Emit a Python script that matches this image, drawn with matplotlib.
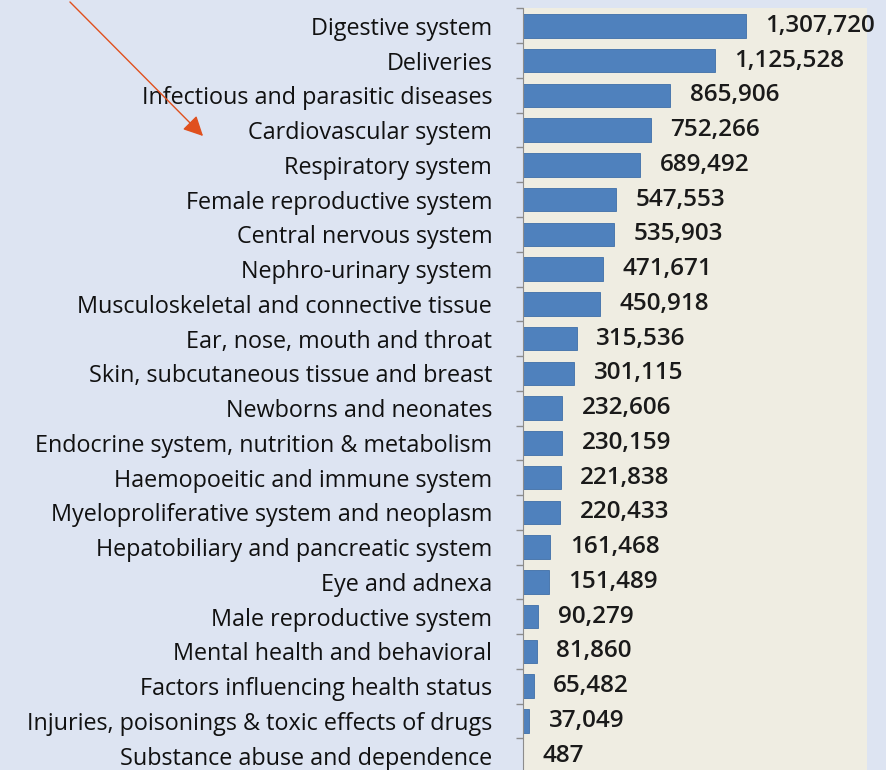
import matplotlib
matplotlib.use("Agg")
import matplotlib.pyplot as plt

categories = [
    "Digestive system",
    "Deliveries",
    "Infectious and parasitic diseases",
    "Cardiovascular system",
    "Respiratory system",
    "Female reproductive system",
    "Central nervous system",
    "Nephro-urinary system",
    "Musculoskeletal and connective tissue",
    "Ear, nose, mouth and throat",
    "Skin, subcutaneous tissue and breast",
    "Newborns and neonates",
    "Endocrine system, nutrition & metabolism",
    "Haemopoeitic and immune system",
    "Myeloproliferative system and neoplasm",
    "Hepatobiliary and pancreatic system",
    "Eye and adnexa",
    "Male reproductive system",
    "Mental health and behavioral",
    "Factors influencing health status",
    "Injuries, poisonings & toxic effects of drugs",
    "Substance abuse and dependence",
]
values = [1307720, 1125528, 865906, 752266, 689492, 547553, 535903, 471671,
          450918, 315536, 301115, 232606, 230159, 221838, 220433, 161468,
          151489, 90279, 81860, 65482, 37049, 487]

BG = "#dde4f2"
PLOT_BG = "#efede2"
BAR = "#4f81bd"

fig = plt.figure(figsize=(8.86, 7.70), dpi=100, facecolor=BG)
ax = fig.add_axes([0.590, -0.004, 0.389, 0.993], facecolor=PLOT_BG)

y = list(range(len(categories)))
ax.barh(y, values, height=0.68, color=BAR, edgecolor="#3f6fa8", linewidth=0.6)
ax.set_ylim(len(categories) - 0.5, -0.5)
ax.set_xlim(0, 2020000)

for yi, v in zip(y, values):
    ax.annotate(f"{v:,}", (v, yi), xytext=(14, 0), textcoords="offset points",
                va="center", ha="left", fontsize=17.5, family="Open Sans",
                fontweight="semibold", color="#1a1a1a")

# ticks sit on category boundaries, labels centred on bars
ax.set_yticks([i - 0.5 for i in range(len(categories) + 1)])
ax.set_yticklabels([])
ax.set_yticks(y, minor=True)
ax.set_yticklabels(categories, minor=True, fontsize=16.8, family="Open Sans",
                   color="#111111")
ax.tick_params(axis="y", which="major", length=5, color="#8c8c8c", width=1)
ax.tick_params(axis="y", which="minor", length=0, pad=22)
ax.set_xticks([])

for side in ("top", "right", "bottom"):
    ax.spines[side].set_visible(False)
ax.spines["left"].set_color("#8c8c8c")

# orange pointer arrow in the top-left corner
fig.patches.append(matplotlib.patches.FancyArrowPatch(
    (68 / 886, 1.0), (205 / 886, 1 - 138 / 770), transform=fig.transFigure,
    arrowstyle="-|>,head_length=8,head_width=4", color="#e0501e", lw=1.0,
    mutation_scale=1.5))

fig.savefig("out.png", dpi=100, facecolor=BG)
